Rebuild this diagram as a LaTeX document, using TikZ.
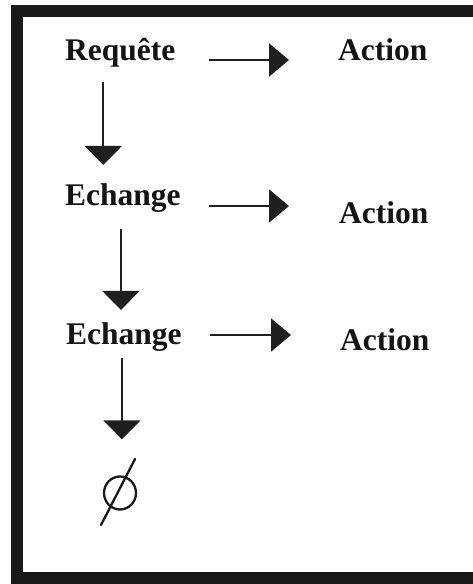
\documentclass[tikz,border=0pt]{standalone}
\usepackage{fontspec}
\setmainfont{Liberation Serif}
\usetikzlibrary{arrows.meta}
\begin{document}
\begin{tikzpicture}[x=1pt,y=-1pt,
  lbl/.style={inner sep=0pt, anchor=base west, font=\fontsize{31.5}{36}\selectfont\bfseries, text=black!92},
  harrow/.style={line width=2pt, draw=black!88, -{Triangle[length=20pt,width=33pt]}},
  varrow/.style={line width=2pt, draw=black!88, -{Triangle[length=19pt,width=37pt]}},
  framebox/.style={line width=12pt, draw=black!90}]
\useasboundingbox (0,0) rectangle (473,584);
\fill[white] (0,0) rectangle (473,584);
\draw[framebox] (17,10.5) rectangle (479,578);

\node[lbl] (req)  at (65,60)  {Requête};
\node[lbl] (act1) at (338,60) {Action};
\node[lbl] (ech1) at (65,205) {Echange};
\node[lbl] (act2) at (339,223) {Action};
\node[lbl] (ech2) at (66,344) {Echange};
\node[lbl] (act3) at (340,350) {Action};
\node[inner sep=0pt, minimum size=33pt] (empty) at (120,493) {};

% horizontal arrows
\draw[harrow, shorten <=33pt, shorten >=49pt] (req.base east) -- (req.base east -| act1.west);
\draw[harrow, shorten <=28pt, shorten >=50pt] ([yshift=-1pt]ech1.base east) -- ([yshift=-1pt]ech1.base east -| act2.west);
\draw[harrow, shorten <=28pt, shorten >=49pt] ([yshift=9pt]ech2.base east) -- ([yshift=9pt]ech2.base east -| act3.west);

% vertical arrows
\draw[varrow, shorten <=15pt, shorten >=18pt] ([xshift=-17pt]req.south) -- ([xshift=-17pt]req.south |- ech1.north);
\draw[varrow, shorten <=17pt, shorten >=12pt] ([xshift=-2pt]ech1.south) -- ([xshift=-2pt]ech1.south |- ech2.north);
\draw[varrow, shorten <=7pt, shorten >=37pt] ([xshift=-2pt]ech2.south) -- ([xshift=-2pt]ech2.south |- empty.north);

% empty set symbol
\draw[line width=2.3pt, draw=black!90] (empty.center) ellipse [x radius=16pt, y radius=16.5pt];
\draw[line width=2.3pt, draw=black!90, line cap=round] ([shift={(-19pt,-32pt)}]empty.center) -- ([shift={(15pt,34pt)}]empty.center);
\end{tikzpicture}
\end{document}
